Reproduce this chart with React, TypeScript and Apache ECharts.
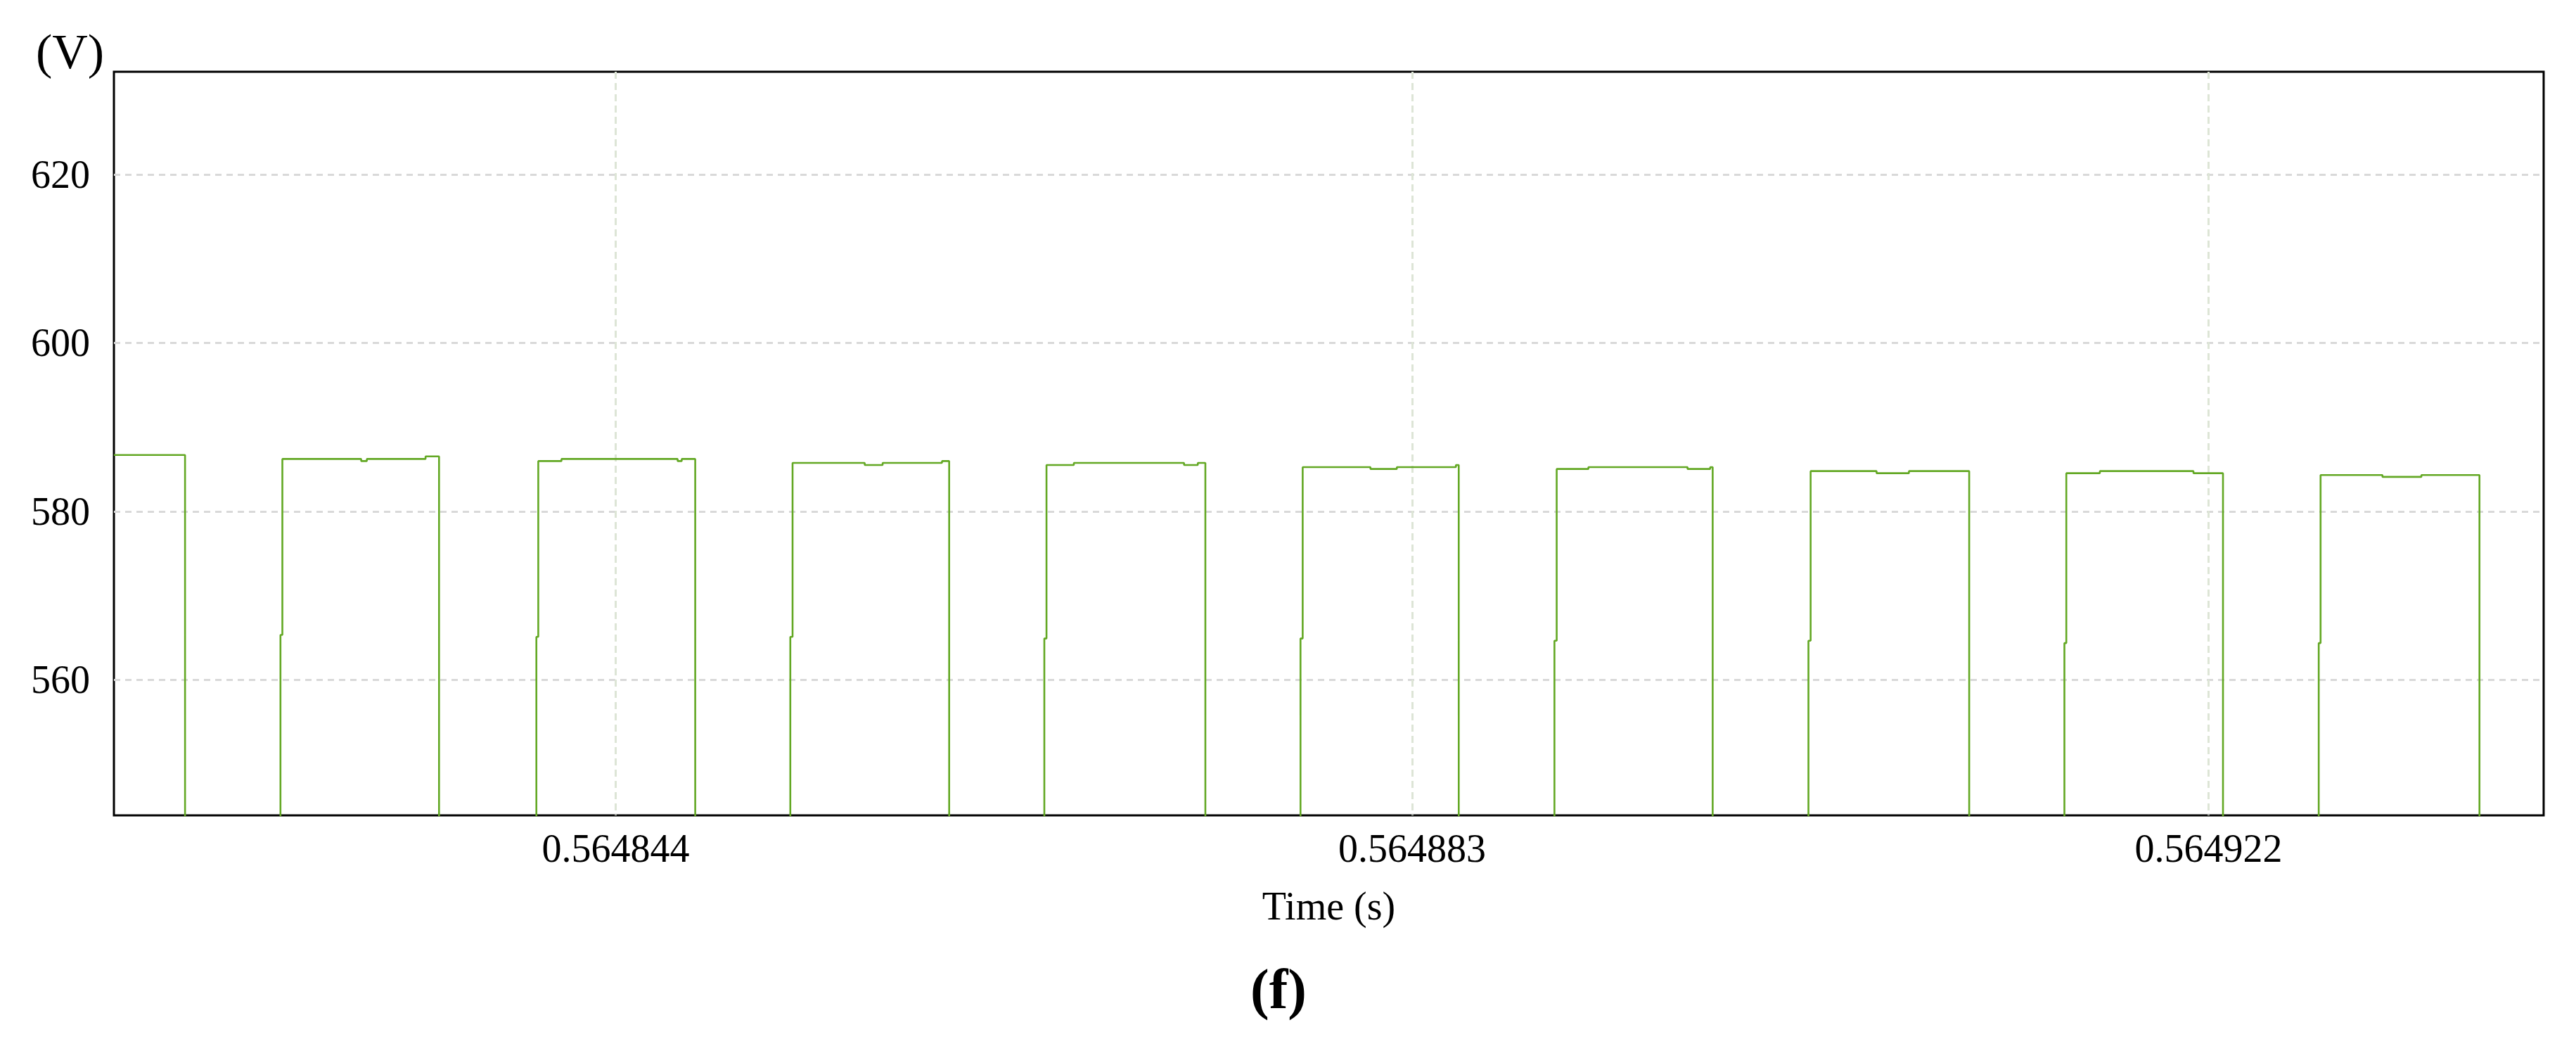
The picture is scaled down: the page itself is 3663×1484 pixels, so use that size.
import React, { useEffect, useRef } from "react";
import * as echarts from "echarts";

// Reference instant of the first labelled tick (s); sample times are stored as offsets in microseconds
const T0 = 0.564844;

// Sample-and-hold waveform: each voltage holds from its time until the next sample
const SAMPLE_US = [
  -24.576, -21.093,
  -16.42, -16.327, -12.467, -12.191, -9.315, -8.654,
  -3.888, -3.795, -2.659, 3.031, 3.23, 3.891,
  8.548, 8.658, 12.191, 13.069, 15.976, 16.327,
  20.987, 21.093, 22.433, 27.829, 28.504, 28.873,
  33.532, 33.639, 36.959, 38.25, 41.143, 41.281,
  45.968, 46.078, 47.631, 52.487, 53.596, 53.717,
  58.407, 58.514, 61.744, 63.328, 66.279,
  70.942, 71.035, 72.678, 77.262, 78.708,
  83.396, 83.487, 86.518, 88.423, 91.268,
  94.411,
];
const SAMPLE_V = [
  586.69, 0,
  565.33, 586.22, 585.97, 586.22, 586.52, 0,
  565.1, 585.97, 586.22, 585.97, 586.22, 0,
  565.1, 585.75, 585.5, 585.75, 585.97, 0,
  564.9, 585.5, 585.75, 585.5, 585.75, 0,
  564.9, 585.25, 585.03, 585.25, 585.5, 0,
  564.64, 585.03, 585.25, 585.03, 585.25, 0,
  564.64, 584.78, 584.53, 584.78, 0,
  564.36, 584.53, 584.78, 584.53, 0,
  564.36, 584.31, 584.09, 584.31, 0,
  0,
];

const X_TICKS = [0.564844, 0.564883, 0.564922];
const Y_TICKS = [560, 580, 600, 620];
const X_RANGE = [0.564819424, 0.564938411];
const Y_RANGE = [543.9, 632.2];

const FONT = "'Liberation Serif', 'Times New Roman', serif";

export default function App() {
  const ref = useRef<HTMLDivElement>(null);

  useEffect(() => {
    document.body.style.margin = "0";
    const chart = echarts.init(ref.current!, undefined, { renderer: "svg" });
    const data = SAMPLE_US.map((u, i) => [T0 + u * 1e-6, SAMPLE_V[i]]);

    chart.setOption({
      animation: false,
      backgroundColor: "#ffffff",
      grid: {
        left: 162,
        right: 46,
        top: 102,
        bottom: 325,
        show: true,
        borderColor: "#000000",
        borderWidth: 3,
        backgroundColor: "transparent",
        containLabel: false,
        outerBoundsMode: "none",
      },
      xAxis: {
        type: "value",
        min: X_RANGE[0],
        max: X_RANGE[1],
        name: "Time (s)",
        nameLocation: "middle",
        nameGap: 101,
        nameMoveOverlap: false,
        nameTextStyle: { fontFamily: FONT, fontSize: 56, color: "#000" },
        axisLine: { show: false },
        axisTick: { show: false, customValues: X_TICKS },
        axisLabel: {
          customValues: X_TICKS,
          formatter: (v: number) => v.toFixed(6),
          fontFamily: FONT,
          fontSize: 56,
          color: "#000",
          margin: 19,
        },
        splitLine: {
          show: true,
          lineStyle: { color: "#dde5d6", width: 3, type: [10, 6] },
        },
      },
      yAxis: {
        type: "value",
        min: Y_RANGE[0],
        max: Y_RANGE[1],
        axisLine: { show: false },
        axisTick: { show: false, customValues: Y_TICKS },
        axisLabel: {
          customValues: Y_TICKS,
          fontFamily: FONT,
          fontSize: 56,
          color: "#000",
          margin: 34,
        },
        splitLine: {
          show: true,
          lineStyle: { color: "#d9d9d9", width: 3, type: [9, 7] },
        },
      },
      graphic: [
        {
          type: "text",
          left: 51,
          top: 38,
          style: { text: "(V)", fontFamily: FONT, fontSize: 70, fill: "#000" },
        },
        {
          type: "text",
          x: 1818,
          y: 1406,
          style: {
            text: "(f)",
            fontFamily: FONT,
            fontSize: 80,
            fontWeight: "bold",
            fill: "#000",
            align: "center",
            verticalAlign: "middle",
          },
        },
      ],
      series: [
        {
          type: "line",
          data,
          step: "end",
          showSymbol: false,
          clip: true,
          lineStyle: { color: "#63a824", width: 2.6 },
          z: 3,
        },
      ],
    });

    return () => chart.dispose();
  }, []);

  return (
    <div
      ref={ref}
      style={{ position: "absolute", left: 0, top: 0, width: 3663, height: 1484 }}
    />
  );
}
